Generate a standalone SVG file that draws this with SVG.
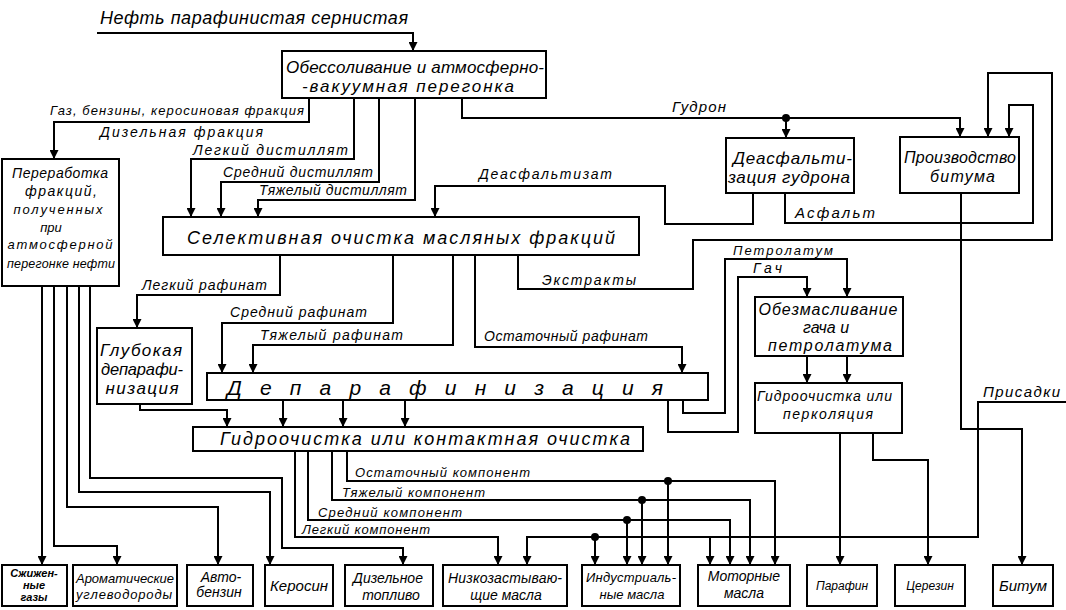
<svg xmlns="http://www.w3.org/2000/svg" width="1066" height="610" viewBox="0 0 1066 610">
<style>
  .bx{fill:#fff;stroke:#000;stroke-width:2}
  .ln{fill:none;stroke:#000;stroke-width:2}
  .ar{marker-end:url(#ah)}
  text{font-family:"Liberation Sans","DejaVu Sans",sans-serif;font-style:italic;fill:#000}
  .c{text-anchor:middle}
  .lb{font-size:14px}
  .sm{font-size:13px}
</style>
<defs>
  <marker id="ah" viewBox="0 0 10 10" refX="10" refY="5" markerWidth="11" markerHeight="9" markerUnits="userSpaceOnUse" orient="auto">
    <path d="M0,0 L10,5 L0,10 z" fill="#000"/>
  </marker>
</defs>
<rect width="1066" height="610" fill="#fff"/>

<g id="connectors">
  <path class="ln ar" d="M97,33 H413 V51"/>
  <path class="ln ar" d="M309,98 V122 H54 V159"/>
  <path class="ln ar" d="M354,98 V159 H191 V217"/>
  <path class="ln ar" d="M379,98 V182 H221 V217"/>
  <path class="ln ar" d="M415,98 V200 H258 V217"/>
  <path class="ln ar" d="M462,98 V118 H960 V137"/>
  <path class="ln ar" d="M786,118 V138"/>
  <circle cx="786" cy="118" r="4"/>
  <path class="ln ar" d="M753,193 V224 H665 V186 H435 V217"/>
  <path class="ln ar" d="M785,193 V223 H1033 V105 H1009 V137"/>
  <path class="ln ar" d="M518,255 V289 H693 V240 H1052 V73 H988 V137"/>
  <path class="ln ar" d="M961,193 V429 H1022 V565"/>
  <path class="ln ar" d="M280,255 V295 H137 V328"/>
  <path class="ln ar" d="M393,255 V323 H222 V373"/>
  <path class="ln ar" d="M453,255 V345 H253 V373"/>
  <path class="ln ar" d="M475,255 V347 H682 V373"/>
  <path class="ln ar" d="M683,400 V413 H725 V259 H847 V297"/>
  <path class="ln ar" d="M668,400 V432 H738 V277 H807 V297"/>
  <path class="ln ar" d="M807,356 V383"/>
  <path class="ln ar" d="M847,356 V383"/>
  <path class="ln ar" d="M140,404 V410 H227 V427"/>
  <path class="ln ar" d="M283,400 V427"/>
  <path class="ln ar" d="M343,400 V427"/>
  <path class="ln ar" d="M405,400 V427"/>
  <path class="ln ar" d="M840,433 V565"/>
  <path class="ln ar" d="M873,433 V460 H928 V565"/>
  <path class="ln ar" d="M1066,402 H978 V537 H527 V565"/>
  <path class="ln ar" d="M595,537 V565"/>
  <path class="ln ar" d="M710,537 V565"/>
  <circle cx="595" cy="537" r="4"/>
  <path class="ln ar" d="M347,451 V481 H775 V565"/>
  <path class="ln ar" d="M668,481 V565"/>
  <circle cx="668" cy="481" r="4"/>
  <path class="ln ar" d="M332,451 V500 H750 V565"/>
  <path class="ln ar" d="M642,500 V565"/>
  <circle cx="642" cy="500" r="4"/>
  <path class="ln ar" d="M308,451 V520 H730 V565"/>
  <path class="ln ar" d="M627,520 V565"/>
  <circle cx="627" cy="520" r="4"/>
  <path class="ln ar" d="M295,451 V537 H498 V565"/>
  <path class="ln ar" d="M42,286 V565"/>
  <path class="ln ar" d="M54,286 V546 H117 V565"/>
  <path class="ln ar" d="M67,286 V507 H218 V565"/>
  <path class="ln ar" d="M79,286 V492 H270 V565"/>
  <path class="ln ar" d="M90,286 V478 H282 V548 H403 V565"/>

  <text x="100" y="24" font-size="18" textLength="308" lengthAdjust="spacing">Нефть  парафинистая  сернистая</text>
  <text class="sm" x="50" y="115" textLength="254" lengthAdjust="spacing">Газ, бензины, керосиновая фракция</text>
  <text class="lb" x="100" y="137" textLength="163" lengthAdjust="spacing">Дизельная фракция</text>
  <text class="lb" x="193" y="155" textLength="155" lengthAdjust="spacing">Легкий дистиллят</text>
  <text class="lb" x="223" y="177" textLength="150" lengthAdjust="spacing">Средний дистиллят</text>
  <text class="lb" x="259" y="195" textLength="148" lengthAdjust="spacing">Тяжелый дистиллят</text>
  <text x="672" y="112" font-size="15" textLength="54" lengthAdjust="spacing">Гудрон</text>
  <text class="lb" x="479" y="179" textLength="133" lengthAdjust="spacing">Деасфальтизат</text>
  <text x="795" y="218" font-size="15" textLength="80" lengthAdjust="spacing">Асфальт</text>
  <text class="lb" x="542" y="285" textLength="94" lengthAdjust="spacing">Экстракты</text>
  <text class="sm" x="733" y="255" textLength="100" lengthAdjust="spacing">Петролатум</text>
  <text class="lb" x="753" y="273" textLength="29" lengthAdjust="spacing">Гач</text>
  <text class="lb" x="142" y="290" textLength="125" lengthAdjust="spacing">Легкий рафинат</text>
  <text class="lb" x="230" y="317" textLength="137" lengthAdjust="spacing">Средний рафинат</text>
  <text class="lb" x="260" y="340" textLength="143" lengthAdjust="spacing">Тяжелый рафинат</text>
  <text class="lb" x="484" y="341" textLength="164" lengthAdjust="spacing">Остаточный рафинат</text>
  <text x="983" y="397" font-size="15" textLength="77" lengthAdjust="spacing">Присадки</text>
  <text class="sm" x="355" y="477" textLength="175" lengthAdjust="spacing">Остаточный компонент</text>
  <text class="sm" x="342" y="497" textLength="143" lengthAdjust="spacing">Тяжелый компонент</text>
  <text class="sm" x="318" y="517" textLength="144" lengthAdjust="spacing">Средний компонент</text>
  <text class="sm" x="302" y="534" textLength="128" lengthAdjust="spacing">Легкий компонент</text>
</g>

<g id="n-desalting">
  <rect class="bx" x="282" y="51" width="264" height="47"/>
  <text x="286" y="73" font-size="17" textLength="258" lengthAdjust="spacing">Обессоливание и атмосферно-</text>
  <text x="302" y="92" font-size="17" textLength="212" lengthAdjust="spacing">-вакуумная  перегонка</text>
</g>
<g id="n-processing">
  <rect class="bx" x="2" y="159" width="117" height="127"/>
  <text class="c" x="60" y="178" font-size="14" textLength="96" lengthAdjust="spacing">Переработка</text>
  <text class="c" x="61" y="196" font-size="14" textLength="72" lengthAdjust="spacing">фракций,</text>
  <text class="c" x="58" y="214" font-size="13" textLength="89" lengthAdjust="spacing">полученных</text>
  <text class="c" x="51" y="232" font-size="13">при</text>
  <text class="c" x="60" y="249" font-size="13" textLength="105" lengthAdjust="spacing">атмосферной</text>
  <text class="c" x="61" y="268" font-size="12.5" textLength="108" lengthAdjust="spacing">перегонке нефти</text>
</g>
<g id="n-deasphalt">
  <rect class="bx" x="726" y="138" width="128" height="55"/>
  <text x="733" y="164" font-size="17" textLength="119" lengthAdjust="spacing">Деасфальти-</text>
  <text x="728" y="183" font-size="17" textLength="122" lengthAdjust="spacing">зация гудрона</text>
</g>
<g id="n-bitumen-prod">
  <rect class="bx" x="900" y="137" width="119" height="56"/>
  <text x="904" y="163" font-size="16" textLength="112" lengthAdjust="spacing">Производство</text>
  <text x="930" y="182" font-size="16" textLength="65" lengthAdjust="spacing">битума</text>
</g>
<g id="n-selective">
  <rect class="bx" x="163" y="217" width="476" height="38"/>
  <text x="187" y="244" font-size="18" textLength="428" lengthAdjust="spacing">Селективная очистка масляных фракций</text>
</g>
<g id="n-deep-dewax">
  <rect class="bx" x="97" y="328" width="95" height="76"/>
  <text class="c" x="141" y="356" font-size="17" textLength="82" lengthAdjust="spacing">Глубокая</text>
  <text x="101" y="375" font-size="16.5" textLength="82" lengthAdjust="spacing">депарафи-</text>
  <text class="c" x="142" y="394" font-size="17" textLength="73" lengthAdjust="spacing">низация</text>
</g>
<g id="n-dewax">
  <rect class="bx" x="207" y="373" width="501" height="27"/>
  <text x="227" y="395" font-size="21" textLength="436" lengthAdjust="spacing">Депарафинизация</text>
</g>
<g id="n-deoil">
  <rect class="bx" x="755" y="297" width="148" height="59"/>
  <text class="c" x="828" y="315" font-size="16" textLength="139" lengthAdjust="spacing">Обезмасливание</text>
  <text class="c" x="826" y="333" font-size="16">гача и</text>
  <text class="c" x="830" y="351" font-size="16" textLength="124" lengthAdjust="spacing">петролатума</text>
</g>
<g id="n-hydro-contact">
  <rect class="bx" x="193" y="427" width="450" height="24"/>
  <text x="220" y="445" font-size="18" textLength="410" lengthAdjust="spacing">Гидроочистка или контактная очистка</text>
</g>
<g id="n-hydro-perc">
  <rect class="bx" x="755" y="383" width="147" height="50"/>
  <text x="757" y="401" font-size="14" textLength="135" lengthAdjust="spacing">Гидроочистка или</text>
  <text x="783" y="419" font-size="14" textLength="90" lengthAdjust="spacing">перколяция</text>
</g>
<g id="p-lpg">
  <rect class="bx" x="2" y="565" width="65" height="41"/>
  <text class="c" x="34" y="577" font-size="11" font-weight="bold">Сжижен-</text>
  <text class="c" x="34" y="589" font-size="11" font-weight="bold">ные</text>
  <text class="c" x="34" y="601" font-size="11" font-weight="bold">газы</text>
</g>
<g id="p-aromatics">
  <rect class="bx" x="73" y="565" width="104" height="41"/>
  <text class="c" x="125" y="583" font-size="13" textLength="98" lengthAdjust="spacing">Ароматические</text>
  <text class="c" x="124" y="599" font-size="13" textLength="96" lengthAdjust="spacing">углеводороды</text>
</g>
<g id="p-gasoline">
  <rect class="bx" x="187" y="565" width="66" height="41"/>
  <text class="c" x="221" y="582" font-size="14">Авто-</text>
  <text class="c" x="219" y="597" font-size="14">бензин</text>
</g>
<g id="p-kerosene">
  <rect class="bx" x="265" y="565" width="68" height="41"/>
  <text class="c" x="299" y="591" font-size="15">Керосин</text>
</g>
<g id="p-diesel">
  <rect class="bx" x="345" y="565" width="88" height="41"/>
  <text class="c" x="388" y="583" font-size="14">Дизельное</text>
  <text class="c" x="391" y="600" font-size="14">топливо</text>
</g>
<g id="p-lowpour">
  <rect class="bx" x="443" y="565" width="124" height="41"/>
  <text class="c" x="505" y="583" font-size="14" textLength="114" lengthAdjust="spacing">Низкозастываю-</text>
  <text class="c" x="506" y="600" font-size="14">щие масла</text>
</g>
<g id="p-industrial">
  <rect class="bx" x="582" y="565" width="98" height="41"/>
  <text class="c" x="631" y="582" font-size="13" textLength="90" lengthAdjust="spacing">Индустриаль-</text>
  <text class="c" x="632" y="599" font-size="13">ные масла</text>
</g>
<g id="p-motor">
  <rect class="bx" x="698" y="565" width="92" height="41"/>
  <text class="c" x="744" y="581" font-size="14">Моторные</text>
  <text class="c" x="744" y="598" font-size="14">масла</text>
</g>
<g id="p-paraffin">
  <rect class="bx" x="807" y="565" width="70" height="41"/>
  <text class="c" x="842" y="590" font-size="12">Парафин</text>
</g>
<g id="p-ceresin">
  <rect class="bx" x="895" y="565" width="70" height="41"/>
  <text class="c" x="930" y="590" font-size="12">Церезин</text>
</g>
<g id="p-bitumen">
  <rect class="bx" x="993" y="565" width="60" height="41"/>
  <text class="c" x="1023" y="591" font-size="15">Битум</text>
</g>
</svg>
